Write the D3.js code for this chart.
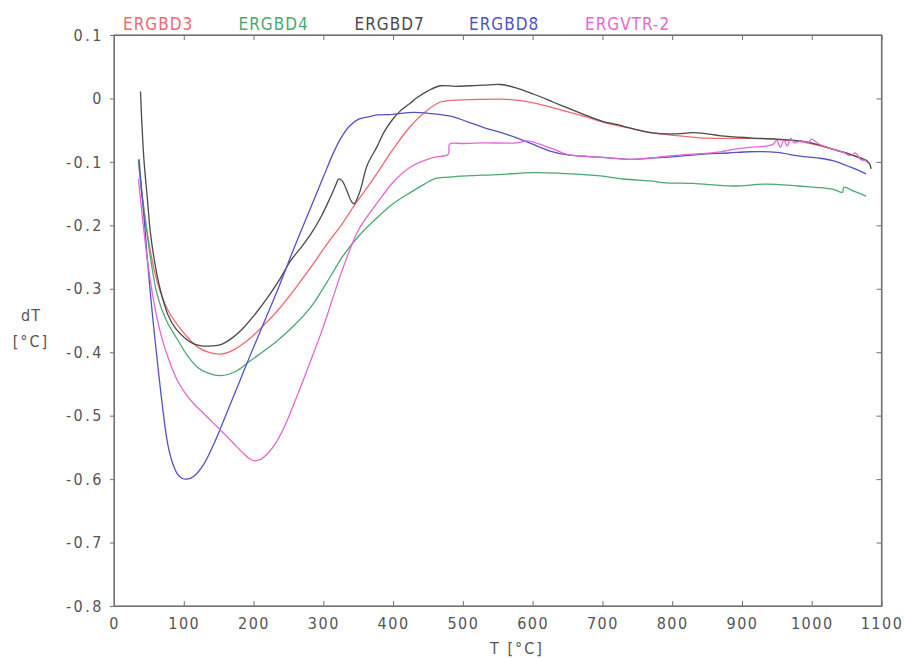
<!DOCTYPE html>
<html>
<head>
<meta charset="utf-8">
<script src="https://cdn.jsdelivr.net/npm/d3@7"></script>
<style>
  html, body { margin: 0; padding: 0; background: #fff; }
  svg { display: block; }
  text { font-family: "Liberation Sans Narrow", "DejaVu Sans Condensed", "Liberation Sans", sans-serif; }
</style>
</head>
<body>
<svg id="chart" width="904" height="658"></svg>
<script>
// ---------- data ----------
const seriesNames = ["ERGBD3", "ERGBD4", "ERGBD7", "ERGBD8", "ERGVTR-2"];
const seriesColors = ["#f06872", "#4aa870", "#4a4a4a", "#5252c4", "#e466d4"];

const xTickValues = [0, 100, 200, 300, 400, 500, 600, 700, 800, 900, 1000, 1100];
const xTickLabels = ["0", "100", "200", "300", "400", "500", "600", "700", "800", "900", "1000", "1100"];
const yTickValues = [0.1, 0, -0.1, -0.2, -0.3, -0.4, -0.5, -0.6, -0.7, -0.8];
const yTickLabels = ["0.1", "0", "-0.1", "-0.2", "-0.3", "-0.4", "-0.5", "-0.6", "-0.7", "-0.8"];

// [T (°C), dT (°C)]
const ergbd3 = [[35,-0.098],[40,-0.15],[46,-0.2],[52,-0.24],[57,-0.267],[65,-0.3],[77,-0.333],[91,-0.357],[105,-0.376],[120,-0.392],[135,-0.4],[153,-0.403],[170,-0.397],[196,-0.377],[215,-0.357],[234,-0.335],[258,-0.302],[282,-0.266],[305,-0.23],[328,-0.196],[343,-0.171],[360,-0.145],[377,-0.118],[400,-0.08],[424,-0.045],[445,-0.022],[467,-0.006],[482,-0.003],[510,-0.002],[554,-0.001],[580,-0.003],[601,-0.007],[640,-0.018],[673,-0.028],[710,-0.04],[744,-0.048],[770,-0.054],[800,-0.058],[840,-0.062],[880,-0.063],[911,-0.063],[950,-0.065],[983,-0.068],[1010,-0.074],[1030,-0.08],[1055,-0.088],[1080,-0.098]];

const ergbd4 = [[35,-0.096],[40,-0.15],[46,-0.2],[53,-0.256],[62,-0.31],[75,-0.35],[91,-0.38],[105,-0.405],[120,-0.424],[135,-0.433],[153,-0.437],[175,-0.43],[196,-0.413],[215,-0.398],[234,-0.382],[258,-0.358],[282,-0.329],[305,-0.29],[329,-0.247],[353,-0.214],[377,-0.188],[400,-0.166],[425,-0.148],[445,-0.135],[458,-0.127],[480,-0.124],[505,-0.122],[550,-0.12],[601,-0.117],[640,-0.118],[673,-0.12],[697,-0.122],[730,-0.127],[768,-0.13],[792,-0.133],[830,-0.134],[887,-0.138],[935,-0.135],[980,-0.138],[1030,-0.143],[1044,-0.148],[1046,-0.14],[1060,-0.146],[1078,-0.154]];

const ergbd7 = [[38,0.011],[40,-0.04],[43,-0.098],[48,-0.16],[52,-0.21],[58,-0.256],[66,-0.3],[77,-0.34],[88,-0.362],[101,-0.377],[113,-0.386],[125,-0.39],[140,-0.39],[153,-0.388],[170,-0.377],[186,-0.361],[203,-0.339],[220,-0.314],[237,-0.286],[253,-0.256],[268,-0.235],[282,-0.214],[297,-0.186],[310,-0.156],[318,-0.136],[322,-0.127],[327,-0.13],[334,-0.146],[340,-0.162],[344,-0.166],[352,-0.148],[363,-0.105],[377,-0.076],[387,-0.053],[400,-0.032],[410,-0.02],[425,-0.007],[434,0.001],[450,0.012],[468,0.02],[490,0.019],[510,0.02],[530,0.021],[554,0.022],[575,0.017],[601,0.007],[630,-0.006],[650,-0.015],[673,-0.025],[700,-0.036],[720,-0.041],[744,-0.048],[768,-0.054],[800,-0.056],[830,-0.054],[845,-0.055],[870,-0.059],[911,-0.062],[950,-0.064],[983,-0.067],[1010,-0.073],[1030,-0.08],[1055,-0.088],[1078,-0.098],[1083,-0.103],[1085,-0.111]];

const ergbd8 = [[36,-0.096],[40,-0.15],[44,-0.2],[48,-0.256],[55,-0.34],[62,-0.413],[70,-0.49],[77,-0.545],[84,-0.575],[91,-0.592],[98,-0.599],[105,-0.6],[115,-0.595],[129,-0.576],[145,-0.54],[163,-0.492],[180,-0.446],[196,-0.403],[215,-0.353],[234,-0.303],[258,-0.236],[282,-0.172],[300,-0.124],[314,-0.087],[326,-0.061],[338,-0.043],[350,-0.033],[365,-0.029],[377,-0.026],[400,-0.025],[430,-0.022],[455,-0.024],[482,-0.028],[505,-0.036],[530,-0.046],[555,-0.054],[577,-0.062],[600,-0.072],[625,-0.083],[650,-0.089],[673,-0.091],[700,-0.093],[744,-0.096],[768,-0.094],[800,-0.092],[840,-0.088],[880,-0.086],[911,-0.084],[950,-0.085],[983,-0.091],[1010,-0.094],[1030,-0.098],[1055,-0.108],[1078,-0.119]];

const ergvtr2 = [[35,-0.127],[40,-0.18],[44,-0.22],[48,-0.256],[57,-0.32],[67,-0.371],[78,-0.41],[91,-0.445],[103,-0.466],[115,-0.482],[127,-0.495],[139,-0.508],[151,-0.521],[163,-0.534],[175,-0.548],[186,-0.56],[193,-0.567],[200,-0.571],[210,-0.569],[220,-0.56],[232,-0.543],[244,-0.518],[262,-0.47],[282,-0.413],[300,-0.36],[315,-0.31],[329,-0.265],[349,-0.21],[363,-0.186],[377,-0.165],[400,-0.132],[425,-0.108],[458,-0.093],[479,-0.088],[481,-0.072],[500,-0.071],[530,-0.07],[577,-0.07],[592,-0.067],[610,-0.072],[630,-0.08],[649,-0.088],[673,-0.091],[700,-0.093],[744,-0.096],[768,-0.094],[800,-0.09],[840,-0.087],[863,-0.085],[890,-0.08],[911,-0.077],[935,-0.075],[945,-0.072],[950,-0.066],[955,-0.077],[960,-0.066],[965,-0.075],[970,-0.063],[975,-0.07],[985,-0.067],[995,-0.07],[1000,-0.064],[1010,-0.072],[1020,-0.076],[1030,-0.08],[1045,-0.085],[1055,-0.09],[1063,-0.086],[1070,-0.096],[1078,-0.098]];

const seriesData = [ergbd3, ergbd4, ergbd7, ergbd8, ergvtr2];

// ---------- layout ----------
const svg = d3.select("#chart");
const pLeft = 114, pRight = 881.5, pTop = 35, pBottom = 606;
const x = d3.scaleLinear().domain([0, 1100]).range([pLeft, pRight]);
const y = d3.scaleLinear().domain([-0.8, 0.1]).range([pBottom, pTop]);

svg.append("rect").attr("width", 904).attr("height", 658).attr("fill", "#fff");

const axisColor = "#707070";
const textColor = "#555";

// frame
svg.append("rect")
  .attr("x", pLeft).attr("y", pTop)
  .attr("width", pRight - pLeft).attr("height", pBottom - pTop)
  .attr("fill", "none").attr("stroke", axisColor).attr("stroke-width", 1.2);

// bottom axis
const xAxis = d3.axisBottom(x).tickValues(xTickValues).tickSizeInner(-5).tickSizeOuter(0).tickPadding(12)
  .tickFormat((d, i) => xTickLabels[i]);
const gx = svg.append("g").attr("transform", `translate(0,${pBottom})`).call(xAxis);
gx.select(".domain").attr("stroke", axisColor);
gx.selectAll(".tick line").attr("stroke", axisColor);
gx.selectAll(".tick text").attr("fill", textColor).attr("font-size", 16).attr("letter-spacing", "1.5px").attr("dy", "0.71em");

// top axis (ticks only)
const gxt = svg.append("g").attr("transform", `translate(0,${pTop})`)
  .call(d3.axisTop(x).tickValues(xTickValues).tickSizeInner(-5).tickSizeOuter(0).tickFormat(""));
gxt.select(".domain").attr("stroke", axisColor);
gxt.selectAll(".tick line").attr("stroke", axisColor);

// left axis
const yAxis = d3.axisLeft(y).tickValues(yTickValues).tickSizeInner(4).tickSizeOuter(0).tickPadding(6)
  .tickFormat((d, i) => yTickLabels[i]);
const gy = svg.append("g").attr("transform", `translate(${pLeft},0)`).call(yAxis);
gy.select(".domain").attr("stroke", axisColor);
gy.selectAll(".tick line").attr("stroke", axisColor);
gy.selectAll(".tick text").attr("fill", textColor).attr("font-size", 16).attr("letter-spacing", "2.5px");

// right axis (ticks only)
const gyr = svg.append("g").attr("transform", `translate(${pRight},0)`)
  .call(d3.axisRight(y).tickValues(yTickValues).tickSizeInner(-5).tickSizeOuter(0).tickFormat(""));
gyr.select(".domain").attr("stroke", axisColor);
gyr.selectAll(".tick line").attr("stroke", axisColor);

// axis titles
svg.append("text").attr("x", 31).attr("y", 321).attr("text-anchor", "middle")
  .attr("fill", textColor).attr("font-size", 16).attr("letter-spacing", "1px").text("dT");
svg.append("text").attr("x", 31).attr("y", 347).attr("text-anchor", "middle")
  .attr("fill", textColor).attr("font-size", 16).attr("letter-spacing", "2px").text("[°C]");
svg.append("text").attr("x", 517).attr("y", 654).attr("text-anchor", "middle")
  .attr("fill", textColor).attr("font-size", 16).attr("letter-spacing", "2px").text("T [°C]");

// lines
const line = d3.line().x(d => x(d[0])).y(d => y(d[1])).curve(d3.curveCatmullRom.alpha(0.5));
const plot = svg.append("g");
seriesData.forEach((data, i) => {
  plot.append("path").datum(data)
    .attr("d", line)
    .attr("fill", "none")
    .attr("stroke", seriesColors[i])
    .attr("stroke-width", 1.3)
    .attr("stroke-linejoin", "round");
});

// legend (names above the frame)
const legendX = [123, 238.5, 354.5, 469, 585];
svg.append("g").selectAll("text").data(seriesNames).join("text")
  .attr("x", (d, i) => legendX[i]).attr("y", 30)
  .attr("fill", (d, i) => seriesColors[i])
  .attr("font-size", 17).attr("letter-spacing", "1px")
  .text(d => d);
</script>
</body>
</html>
